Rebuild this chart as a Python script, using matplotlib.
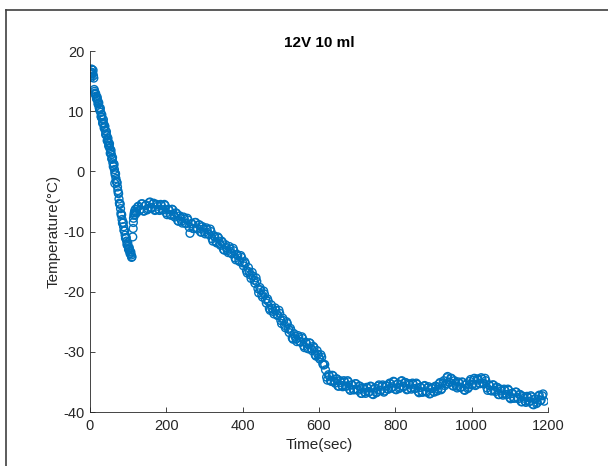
import matplotlib
matplotlib.use("Agg")
import matplotlib.pyplot as plt
from matplotlib.lines import Line2D

# ---- data (time in s, temperature in °C) ----
# initial drop, even seconds
t_drop_a = [0, 2, 4, 6, 8, 10, 12, 14, 16, 18, 20, 22, 24, 26, 28, 30, 32, 34, 36, 38,
            40, 42, 44, 46, 48, 50, 52, 54, 56, 58, 60, 62, 64, 65, 66, 68, 70, 72, 74, 76,
            78, 80, 82, 84, 86, 88, 90, 92, 94, 96, 98, 100, 102, 104, 106, 108, 110]
temp_drop_a = [15.8, 16.5, 17.0, 16.2, 16.8, 15.5, 13.3, 12.8, 12.5, 12.0, 11.8, 11.2, 10.6, 10.3, 9.8, 9.0, 8.7, 8.1, 7.9, 7.4,
               6.8, 6.2, 5.9, 5.2, 4.8, 4.3, 3.8, 3.2, 2.8, 2.0, 1.4, 0.9, 0.3, -2.0, -0.6, -1.2, -1.8, -2.6, -3.6, -4.6,
               -5.5, -6.2, -7.3, -8.0, -8.6, -9.2, -9.9, -10.6, -11.1, -11.6, -12.1, -12.5, -12.9, -13.3, -13.6, -13.9, -14.2]
# initial drop, odd seconds
t_drop_b = [1, 3, 5, 7, 9, 11, 13, 15, 17, 19, 21, 23, 25, 27, 29, 31, 33, 35, 37, 39,
            41, 43, 45, 47, 49, 51, 53, 55, 57, 59, 61, 63, 65, 67, 69, 71, 73, 75, 77, 79,
            81, 83, 85, 87, 89, 91, 93, 95, 97, 99, 101, 103, 105, 107, 109]
temp_drop_b = [16.2, 15.6, 16.9, 16.4, 15.9, 13.6, 13.0, 12.9, 12.1, 12.3, 11.2, 11.4, 10.2, 10.5, 9.1, 9.4, 8.0, 8.6, 7.2, 7.5,
               6.1, 6.6, 5.1, 5.5, 4.2, 4.6, 3.0, 3.5, 2.1, 2.3, 0.8, 1.2, -0.2, -0.4, -1.7, -1.9, -3.2, -3.7, -5.3, -5.4,
               -7.0, -7.2, -8.6, -8.5, -9.8, -9.9, -11.1, -11.0, -12.2, -11.9, -13.0, -12.7, -13.7, -13.4, -14.3]

# jump back after the minimum
t_rec = [112, 113, 113.5, 114, 115, 116, 117, 118, 119, 120]
temp_rec = [-10.9, -9.5, -8.5, -7.8, -7.3, -6.9, -6.6, -7.2, -6.3, -6.8]

# slow cooling, series A (125 ... 1190 s)
t_main_a = [125, 130, 135, 140, 145, 150, 155, 160, 165, 170, 175, 180,
            185, 190, 195, 200, 205, 210, 215, 220, 225, 230, 235, 240,
            245, 250, 255, 260, 265, 270, 275, 280, 285, 290, 295, 300,
            305, 310, 315, 320, 325, 330, 335, 340, 345, 350, 355, 360,
            365, 370, 375, 380, 385, 390, 395, 400, 405, 410, 415, 420,
            425, 430, 435, 440, 445, 450, 455, 460, 465, 470, 475, 480,
            485, 490, 495, 500, 505, 510, 515, 520, 525, 530, 535, 540,
            545, 550, 555, 560, 565, 570, 575, 580, 585, 590, 595, 600,
            605, 610, 615, 620, 625, 630, 635, 640, 645, 650, 655, 660,
            665, 670, 675, 680, 685, 690, 695, 700, 705, 710, 715, 720,
            725, 730, 735, 740, 745, 750, 755, 760, 765, 770, 775, 780,
            785, 790, 795, 800, 805, 810, 815, 820, 825, 830, 835, 840,
            845, 850, 855, 860, 865, 870, 875, 880, 885, 890, 895, 900,
            905, 910, 915, 920, 925, 930, 935, 940, 945, 950, 955, 960,
            965, 970, 975, 980, 985, 990, 995, 1000, 1005, 1010, 1015, 1020,
            1025, 1030, 1035, 1040, 1045, 1050, 1055, 1060, 1065, 1070, 1075, 1080,
            1085, 1090, 1095, 1100, 1105, 1110, 1115, 1120, 1125, 1130, 1135, 1140,
            1145, 1150, 1155, 1160, 1165, 1170, 1175, 1180, 1185, 1190]
temp_main_a = [-5.9, -6.5, -5.4, -6.6, -5.7, -6.4, -5.2, -6.0, -5.4, -6.5, -5.5, -6.3,
               -5.5, -6.4, -5.5, -6.9, -6.3, -7.2, -6.3, -7.3, -6.9, -8.2, -7.4, -8.3,
               -7.6, -8.6, -7.8, -9.3, -8.7, -9.5, -8.5, -9.4, -8.9, -10.1, -9.2, -10.1,
               -9.4, -10.4, -9.6, -11.2, -10.7, -11.7, -10.9, -12.0, -11.6, -13.0, -12.2, -13.2,
               -12.5, -13.6, -12.8, -14.4, -13.8, -14.8, -14.0, -15.2, -15.0, -16.5, -16.0, -17.2,
               -16.8, -18.1, -17.7, -19.5, -19.3, -20.5, -19.9, -21.3, -21.2, -22.8, -22.2, -23.3,
               -22.7, -23.8, -23.1, -24.8, -24.4, -25.6, -25.0, -26.2, -26.1, -27.7, -27.0, -27.9,
               -27.3, -28.3, -27.5, -29.0, -28.4, -29.4, -28.5, -29.5, -29.1, -30.5, -29.8, -30.9,
               -30.5, -32.0, -32.1, -34.2, -33.8, -34.8, -33.9, -34.9, -34.5, -35.7, -34.8, -35.6,
               -34.8, -35.7, -34.8, -36.2, -35.5, -36.3, -35.3, -36.2, -35.7, -36.9, -36.0, -36.7,
               -35.9, -36.7, -35.7, -37.0, -36.2, -36.8, -35.7, -36.4, -35.7, -36.7, -35.6, -36.2,
               -35.2, -36.0, -34.9, -36.2, -35.4, -36.1, -34.9, -35.7, -35.1, -36.3, -35.3, -36.0,
               -35.2, -36.1, -35.2, -36.6, -35.9, -36.7, -35.7, -36.5, -36.0, -37.0, -36.0, -36.6,
               -35.7, -36.5, -35.3, -36.3, -35.2, -35.6, -34.3, -35.0, -34.4, -35.6, -34.8, -35.7,
               -35.0, -35.9, -35.0, -36.3, -35.5, -36.1, -34.9, -35.5, -34.7, -35.6, -34.5, -35.2,
               -34.3, -35.2, -34.4, -36.0, -35.5, -36.4, -35.5, -36.4, -35.9, -37.1, -36.2, -37.0,
               -36.2, -37.1, -36.2, -37.6, -36.9, -37.7, -36.7, -37.6, -37.1, -38.3, -37.4, -38.2,
               -37.4, -38.3, -37.3, -38.7, -37.9, -38.6, -37.4, -38.1, -37.3, -38.2]

# slow cooling, series B (122 ... 1187 s)
t_main_b = [122, 127, 132, 137, 142, 147, 152, 157, 162, 167, 172, 177,
            182, 187, 192, 197, 202, 207, 212, 217, 222, 227, 232, 237,
            242, 247, 252, 257, 262, 267, 272, 277, 282, 287, 292, 297,
            302, 307, 312, 317, 322, 327, 332, 337, 342, 347, 352, 357,
            362, 367, 372, 377, 382, 387, 392, 397, 402, 407, 412, 417,
            422, 427, 432, 437, 442, 447, 452, 457, 462, 467, 472, 477,
            482, 487, 492, 497, 502, 507, 512, 517, 522, 527, 532, 537,
            542, 547, 552, 557, 562, 567, 572, 577, 582, 587, 592, 597,
            602, 607, 612, 617, 622, 627, 632, 637, 642, 647, 652, 657,
            662, 667, 672, 677, 682, 687, 692, 697, 702, 707, 712, 717,
            722, 727, 732, 737, 742, 747, 752, 757, 762, 767, 772, 777,
            782, 787, 792, 797, 802, 807, 812, 817, 822, 827, 832, 837,
            842, 847, 852, 857, 862, 867, 872, 877, 882, 887, 892, 897,
            902, 907, 912, 917, 922, 927, 932, 937, 942, 947, 952, 957,
            962, 967, 972, 977, 982, 987, 992, 997, 1002, 1007, 1012, 1017,
            1022, 1027, 1032, 1037, 1042, 1047, 1052, 1057, 1062, 1067, 1072, 1077,
            1082, 1087, 1092, 1097, 1102, 1107, 1112, 1117, 1122, 1127, 1132, 1137,
            1142, 1147, 1152, 1157, 1162, 1167, 1172, 1177, 1182, 1187]
temp_main_b = [-6.9, -5.8, -6.3, -5.4, -6.6, -5.6, -6.2, -5.1, -6.1, -5.3, -6.4, -5.8,
               -6.5, -5.7, -6.4, -5.7, -7.2, -6.4, -7.3, -6.4, -7.6, -7.0, -8.3, -7.8,
               -8.6, -7.9, -8.7, -8.1, -10.3, -8.7, -9.5, -8.5, -9.6, -8.9, -10.1, -9.6,
               -10.4, -9.7, -10.5, -10.0, -11.6, -10.9, -11.9, -11.1, -12.3, -11.8, -13.1, -12.7,
               -13.5, -12.9, -13.7, -13.2, -14.7, -14.0, -15.0, -14.3, -15.7, -15.3, -16.9, -16.7,
               -17.8, -17.4, -18.6, -18.3, -20.2, -19.7, -20.9, -20.4, -21.9, -21.6, -23.1, -22.8,
               -23.7, -23.1, -24.0, -23.6, -25.3, -24.8, -26.0, -25.3, -26.8, -26.5, -27.9, -27.4,
               -28.3, -27.6, -28.4, -27.8, -29.3, -28.6, -29.5, -28.6, -29.8, -29.3, -30.7, -30.4,
               -31.2, -30.9, -32.2, -33.0, -34.7, -34.0, -34.9, -34.0, -35.2, -34.5, -35.7, -35.1,
               -35.8, -35.0, -35.7, -35.0, -36.4, -35.5, -36.3, -35.3, -36.4, -35.7, -36.9, -36.2,
               -36.9, -36.0, -36.6, -35.8, -37.1, -36.0, -36.7, -35.5, -36.4, -35.5, -36.5, -35.7,
               -36.2, -35.3, -35.8, -35.0, -36.3, -35.3, -35.9, -34.8, -35.8, -35.1, -36.2, -35.5,
               -36.2, -35.4, -36.1, -35.4, -36.8, -35.9, -36.7, -35.6, -36.7, -35.8, -36.9, -36.1,
               -36.7, -35.8, -36.2, -35.1, -36.1, -34.8, -35.3, -34.1, -35.1, -34.4, -35.7, -35.2,
               -36.0, -35.2, -35.9, -35.1, -36.4, -35.3, -35.9, -34.6, -35.4, -34.4, -35.4, -34.7,
               -35.3, -34.5, -35.3, -34.8, -36.4, -35.6, -36.5, -35.5, -36.6, -35.9, -37.1, -36.5,
               -37.2, -36.4, -37.1, -36.4, -37.8, -36.9, -37.7, -36.7, -37.8, -37.1, -38.3, -37.7,
               -38.4, -37.6, -38.2, -37.5, -38.8, -37.8, -38.4, -37.2, -38.0, -37.0]

x_ticks = [0, 200, 400, 600, 800, 1000, 1200]
y_ticks = [-40, -30, -20, -10, 0, 10, 20]

title = "12V 10 ml"
xlabel = "Time(sec)"
ylabel = "Temperature(°C)"

# ---- figure ----
plt.rcParams['font.family'] = ['Liberation Sans', 'DejaVu Sans']
plt.rcParams['axes.unicode_minus'] = False
fig = plt.figure(figsize=(6.08, 4.66), dpi=100)
ax = fig.add_axes([90/608, 54/466, 458/608, 361/466])

t_all = t_drop_a + t_drop_b + t_rec + t_main_a + t_main_b
temp_all = temp_drop_a + temp_drop_b + temp_rec + temp_main_a + temp_main_b
ax.scatter(t_all, temp_all, s=32, facecolors='none', edgecolors='#0072BD', linewidths=1.0)

ax.set_xlim(0, 1200)
ax.set_ylim(-40, 20)
ax.set_xticks(x_ticks)
ax.set_yticks(y_ticks)

grey = '#262626'
for side in ['top', 'right']:
    ax.spines[side].set_visible(False)
for side in ['left', 'bottom']:
    ax.spines[side].set_color(grey)
    ax.spines[side].set_linewidth(0.6)
ax.tick_params(axis='x', direction='in', length=3.3, width=0.6, colors=grey, labelsize=10.5, pad=5)
ax.tick_params(axis='y', direction='in', length=3.3, width=0.6, colors=grey, labelsize=10.5, pad=4)

ax.set_title(title, fontsize=11, fontweight='bold', color='black', pad=3)
ax.set_xlabel(xlabel, fontsize=11, color=grey, labelpad=4)
ax.set_ylabel(ylabel, fontsize=11, color=grey, labelpad=2)

# screenshot frame (top and left edges)
fig.add_artist(Line2D([5.5/608, 1.0], [1 - 10/466, 1 - 10/466], transform=fig.transFigure,
                      color='#404040', linewidth=1.2))
fig.add_artist(Line2D([5.5/608, 5.5/608], [0.0, 1 - 10/466], transform=fig.transFigure,
                      color='#404040', linewidth=1.2))

fig.savefig("out.png", dpi=100)
